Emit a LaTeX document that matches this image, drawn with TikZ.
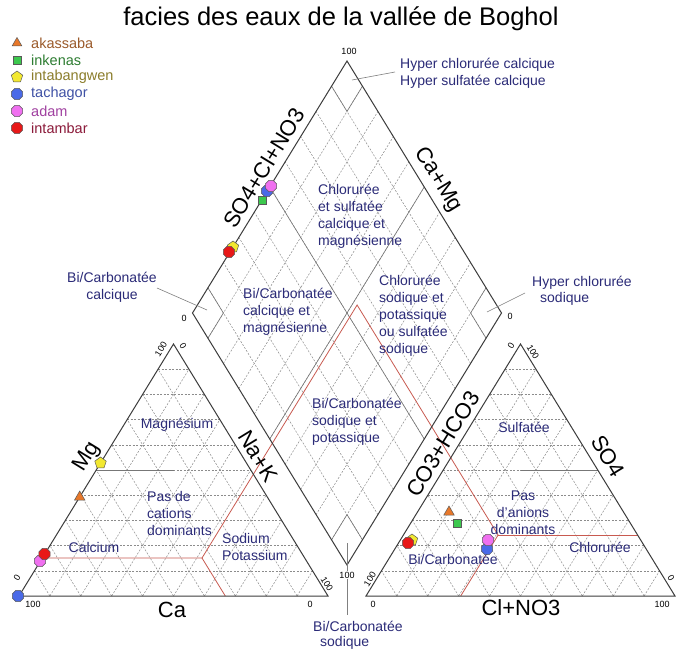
\documentclass[tikz,border=0pt]{standalone}
\usepackage{fontspec}
\setmainfont{Liberation Sans}
\usetikzlibrary{shapes.geometric,calc}
\definecolor{navy}{HTML}{2B2B78}
\definecolor{redl}{HTML}{C85A50}
\definecolor{gridc}{HTML}{8C8C8C}
\definecolor{edgec}{HTML}{3C3C3C}
\definecolor{cOr}{HTML}{E8782A}
\definecolor{cGr}{HTML}{3CC84E}
\definecolor{cYe}{HTML}{F2E830}
\definecolor{cBl}{HTML}{4A6AE8}
\definecolor{cPk}{HTML}{F070F0}
\definecolor{cRd}{HTML}{E81818}
\definecolor{tAk}{HTML}{9B5B2B}
\definecolor{tIn}{HTML}{2E7D32}
\definecolor{tIw}{HTML}{8B7D2B}
\definecolor{tTa}{HTML}{3F51A5}
\definecolor{tAd}{HTML}{A040A0}
\definecolor{tIb}{HTML}{8B1A3A}
\begin{document}
\begin{tikzpicture}[x=1pt,y=-1pt,
 triedge/.style={draw=edgec,line width=1pt,line join=miter},
 gridl/.style={draw=gridc,line width=0.5pt,dash pattern=on 2pt off 1.5pt},
 solidg/.style={draw=gridc!85!black,line width=0.6pt},
 redline/.style={draw=redl,line width=0.8pt},
 leadline/.style={draw=gray,line width=0.6pt},
 region/.style={text=navy,font=\fontsize{14}{17}\selectfont,inner sep=0pt},
 axislbl/.style={font=\fontsize{22}{24}\selectfont,inner sep=0pt},
 ticklbl/.style={font=\fontsize{9}{10}\selectfont,inner sep=0pt},
 legtxt/.style={font=\fontsize{14.5}{16}\selectfont,inner sep=0pt,anchor=west},
 mk/.style={draw=black!65,line width=0.5pt,inner sep=0pt},
 mtri/.style={mk,regular polygon,regular polygon sides=3,minimum size=12pt,fill=cOr},
 msq/.style={mk,rectangle,minimum size=8pt,fill=cGr},
 mpent/.style={mk,regular polygon,regular polygon sides=5,minimum size=12pt,fill=cYe},
 moct/.style={mk,regular polygon,regular polygon sides=8,minimum size=12pt},
]
\fill[white] (0,0) rectangle (676,651);
\useasboundingbox (0,0) rectangle (676,651);

% geometry
\coordinate (A1) at (19,596);
\coordinate (B1) at (328,596);
\coordinate (C1) at (173.5,344);
\coordinate (A2) at (366,596);
\coordinate (B2) at (675,596);
\coordinate (C2) at (520.5,344);
\coordinate (DB) at (347,565);
\coordinate (DL) at (192.5,313);
\coordinate (DT) at (347,61);
\coordinate (DR) at (501.5,313);

% dotted grids
\foreach \i in {1,...,9}{
  \draw[gridl] ($(A1)!\i/10!(C1)$) -- ($(B1)!\i/10!(C1)$);
  \draw[gridl] ($(A1)!\i/10!(B1)$) -- ($(C1)!\i/10!(B1)$);
  \draw[gridl] ($(B1)!\i/10!(A1)$) -- ($(C1)!\i/10!(A1)$);
  \draw[gridl] ($(A2)!\i/10!(C2)$) -- ($(B2)!\i/10!(C2)$);
  \draw[gridl] ($(A2)!\i/10!(B2)$) -- ($(C2)!\i/10!(B2)$);
  \draw[gridl] ($(B2)!\i/10!(A2)$) -- ($(C2)!\i/10!(A2)$);
  \draw[gridl] ($(DB)!\i/10!(DR)$) -- ($(DL)!\i/10!(DT)$);
  \draw[gridl] ($(DB)!\i/10!(DL)$) -- ($(DR)!\i/10!(DT)$);
}

% solid grey facies lines
\draw[solidg] ($(DB)!0.5!(DL)$) -- ($(DR)!0.5!(DT)$);
\draw[solidg] ($(DB)!0.5!(DR)$) -- ($(DL)!0.5!(DT)$);
\draw[solidg] ($(DT)!0.1!(DL)$) -- ($(DT)!0.1!(DB)$) -- ($(DT)!0.1!(DR)$);
\draw[solidg] ($(DL)!0.1!(DT)$) -- ($(DL)!0.1!(DR)$) -- ($(DL)!0.1!(DB)$);
\draw[solidg] ($(DR)!0.1!(DT)$) -- ($(DR)!0.1!(DL)$) -- ($(DR)!0.1!(DB)$);
\draw[solidg] ($(DB)!0.1!(DL)$) -- ($(DB)!0.1!(DT)$) -- ($(DB)!0.1!(DR)$);
\coordinate (mgL) at ($(A1)!0.5!(C1)$);
\coordinate (mgR) at ($(B1)!0.5!(C1)$);
\draw[solidg] (mgL) -- ($(mgL)!0.5!(mgR)$);
\coordinate (soL) at ($(A2)!0.5!(C2)$);
\coordinate (soR) at ($(B2)!0.5!(C2)$);
\draw[solidg] ($(soL)!0.5!(soR)$) -- (soR);

% red facies lines
\coordinate (r1) at (42.3,558);
\coordinate (P1) at (202,558);
\coordinate (r2) at (225.3,596);
\coordinate (Pk) at (357.1,305);
\coordinate (Q) at (498.1,535);
\coordinate (r3) at (460.7,596);
\coordinate (r4) at (637.6,535);
\draw[redline] (r1) -- (P1) -- (r2);
\draw[redline] (P1) -- (Pk) -- (Q) -- (r3);
\draw[redline] (Q) -- (r4);

% outlines
\draw[triedge] (A1) -- (B1) -- (C1) -- cycle;
\draw[triedge] (A2) -- (B2) -- (C2) -- cycle;
\draw[triedge] (DB) -- (DL) -- (DT) -- (DR) -- cycle;

% leader lines
\coordinate (hcc1) at (352,80);  \coordinate (hcc2) at (395,72);
\coordinate (hcs1) at (487,312); \coordinate (hcs2) at (525,293);
\coordinate (bcc1) at (157,288); \coordinate (bcc2) at (207,310);
\coordinate (bcs1) at (347,543); \coordinate (bcs2) at (347,615);
\draw[leadline] (hcc1) -- (hcc2);
\draw[leadline] (hcs1) -- (hcs2);
\draw[leadline] (bcc1) -- (bcc2);
\draw[leadline] (bcs1) -- (bcs2);

% title
\node[font=\fontsize{25.5}{28}\selectfont,inner sep=0pt] (title) at (341,19) {facies des eaux de la vallée de Boghol};

% region labels
\node[region,align=left,anchor=west] (tCS) at (318,216) {Chlorurée\\et sulfatée\\calcique et\\magnésienne};
\node[region,align=left,anchor=west] (tBCM) at (243,312) {Bi/Carbonatée\\calcique et\\magnésienne};
\node[region,align=left,anchor=west] (tCSP) at (379,316) {Chlorurée\\sodique et\\potassique\\ou sulfatée\\sodique};
\node[region,align=left,anchor=west] (tBSP) at (312,422) {Bi/Carbonatée\\sodique et\\potassique};
\node[region,align=left,anchor=west] (tHCC) at (400,73.5) {Hyper chlorurée calcique\\Hyper sulfatée calcique};
\node[region,anchor=west] (tHCS1) at (532,283) {Hyper chlorurée};
\node[region,anchor=west] (tHCS2) at (540,299) {sodique};
\node[region,align=center] (tBCC) at (112,287) {Bi/Carbonatée\\calcique};
\node[region,anchor=west] (tBCS1) at (313,626) {Bi/Carbonatée};
\node[region,anchor=west] (tBCS2) at (320,643) {sodique};
\node[region] (tMg) at (177,425) {Magnésium};
\node[region,align=left,anchor=west] (tPC) at (147,513) {Pas de\\cations\\dominants};
\node[region] (tCa) at (94,547) {Calcium};
\node[region,align=left,anchor=west] (tNa) at (222,546.5) {Sodium\\Potassium};
\node[region] (tSu) at (524,427) {Sulfatée};
\node[region,align=center] (tPA) at (523,513) {Pas\\d'anions\\dominants};
\node[region] (tCl) at (600,547) {Chlorurée};
\node[region] (tBC) at (453,559) {Bi/Carbonatée};

% axis labels
\node[axislbl,rotate=58.5] (lMg) at (87,457) {Mg};
\node[axislbl] (lCa) at (172,610) {Ca};
\node[axislbl,rotate=-58.5] (lNaK) at (258,456) {Na+K};
\node[axislbl,rotate=58.5] (lSCN) at (264,168) {SO4+Cl+NO3};
\node[axislbl,rotate=-58.5] (lCaMg) at (438,180) {Ca+Mg};
\node[axislbl,rotate=58.5] (lCO3) at (443,444) {CO3+HCO3};
\node[axislbl,rotate=-58.5] (lSO4) at (608,456) {SO4};
\node[axislbl] (lClNO3) at (521,608) {Cl+NO3};

% tick labels
\node[ticklbl] (k1) at (33,604) {100};
\node[ticklbl] (k2) at (310,604) {0};
\node[ticklbl,rotate=58.5] (k3) at (17,578) {0};
\node[ticklbl,rotate=58.5] (k4) at (161,349) {100};
\node[ticklbl,rotate=-58.5] (k5) at (183,346) {0};
\node[ticklbl,rotate=-58.5] (k6) at (327,584) {100};
\node[ticklbl] (k7) at (373,604) {0};
\node[ticklbl] (k8) at (662,604) {100};
\node[ticklbl,rotate=58.5] (k9) at (370,579) {100};
\node[ticklbl,rotate=58.5] (k10) at (511,346) {0};
\node[ticklbl,rotate=-58.5] (k11) at (533,352) {100};
\node[ticklbl,rotate=-58.5] (k12) at (671,578) {0};
\node[ticklbl] (k13) at (349,51) {100};
\node[ticklbl] (k14) at (184,318) {0};
\node[ticklbl] (k15) at (510,316) {0};
\node[ticklbl,fill=white,inner sep=1pt] (k16) at (347,575) {100};

% legend
\node[mtri,minimum size=11pt] (g1) at (17,43) {};
\node[legtxt,text=tAk] (gt1) at (31,43) {akassaba};
\node[msq] (g2) at (17,60) {};
\node[legtxt,text=tIn] (gt2) at (31,60) {inkenas};
\node[mpent] (g3) at (17,77) {};
\node[legtxt,text=tIw] (gt3) at (31,77) {intabangwen};
\node[moct,fill=cBl] (g4) at (17,94) {};
\node[legtxt,text=tTa] (gt4) at (31,94) {tachagor};
\node[moct,fill=cPk] (g5) at (17,111) {};
\node[legtxt,text=tAd] (gt5) at (31,111) {adam};
\node[moct,fill=cRd] (g6) at (17,128) {};
\node[legtxt,text=tIb] (gt6) at (31,128) {intambar};

% data points: cation triangle
\node[mtri] (c1) at (79.7,497) {};
\node[mpent] (c3) at (100.5,463) {};
\node[moct,fill=cBl] (c4) at (18,596) {};
\node[moct,fill=cPk] (c5) at (40,561) {};
\node[moct,fill=cRd] (c6) at (44.5,554) {};
% diamond
\node[msq] (d2) at (261.8,200) {};
\node[mpent] (d3) at (233,247) {};
\node[moct,fill=cBl] (d4) at (267,191) {};
\node[moct,fill=cPk] (d5) at (271,186) {};
\node[moct,fill=cRd] (d6) at (229,252) {};
% anion triangle
\node[mtri] (a1) at (449,512) {};
\node[msq] (a2) at (457,523) {};
\node[mpent] (a3) at (412,540) {};
\node[moct,fill=cBl] (a4) at (487,549) {};
\node[moct,fill=cPk] (a5) at (488,540) {};
\node[moct,fill=cRd] (a6) at (408,543) {};
\end{tikzpicture}
\end{document}
